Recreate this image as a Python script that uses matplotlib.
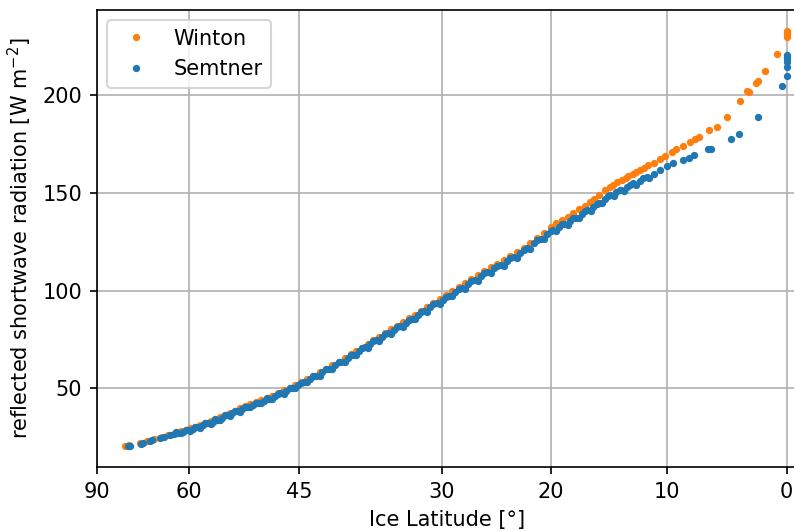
#%% libs
import numpy as np
import matplotlib
matplotlib.use('Agg')
import matplotlib.pyplot as plt

#%% data (ice latitude [deg], reflected SW [W m-2])
winton_lat = [73.5, 72.4, 69.6, 68.0, 66.5, 64.9, 63.7, 62.2, 61.4, 60.6,
              59.8, 59.0, 58.2, 57.4, 56.6, 55.9, 55.2, 54.5, 53.8, 53.1,
              52.4, 51.7, 51.0, 50.3, 49.6, 48.9, 48.2, 47.5, 46.8, 46.1,
              45.4, 44.7, 44.0, 43.3, 42.6, 41.9, 41.2, 40.5, 39.8, 39.2,
              38.6, 38.0, 37.4, 36.8, 36.2, 35.6, 35.0, 34.4, 33.8, 33.2,
              32.6, 32.0, 31.4, 30.8, 30.2, 29.6, 29.0, 28.4, 27.8, 27.2,
              26.6, 26.0, 25.4, 24.8, 24.2, 23.6, 23.0, 22.4, 21.8, 21.2,
              20.6, 20.0, 19.5, 19.0, 18.5, 18.0, 17.5, 17.0, 16.6, 16.25,
              15.8, 15.3, 14.8, 14.55, 14.2, 13.83, 13.5, 13.27, 12.9, 12.62,
              12.27, 11.9, 11.57, 11.06, 10.6, 10.16, 9.6, 9.2, 8.62, 8.08,
              7.66, 7.27, 6.47, 5.82, 4.94, 3.88, 3.27, 3.17, 2.57, 2.36,
              1.80, 0.78, 0.0, 0.0, 0.0, 0.0, 0.0]
winton_sw = [20.3, 20.9, 22.0, 23.0, 24.1, 25.2, 26.3, 27.5, 28.1, 28.8,
             29.6, 30.4, 31.4, 32.4, 33.3, 34.3, 35.2, 36.3, 37.4, 38.5,
             39.7, 40.8, 41.8, 42.9, 44.0, 45.1, 46.2, 47.5, 48.9, 50.3,
             51.7, 53.2, 54.9, 56.5, 58.2, 60.0, 61.8, 63.6, 65.5, 67.3,
             69.0, 70.8, 72.7, 74.5, 76.4, 78.3, 80.1, 82.0, 83.8, 85.8,
             87.7, 89.6, 91.5, 93.6, 95.6, 97.6, 99.7, 101.7, 103.7, 105.8,
             107.8, 109.8, 111.8, 113.8, 115.8, 117.8, 119.8, 121.9, 124.4, 126.9,
             129.4, 132.5, 134.3, 136.0, 137.8, 139.6, 141.5, 143.5, 145.3, 147.0,
             149.0, 151.2, 153.0, 154.0, 155.4, 156.5, 157.5, 158.7, 159.6, 160.5,
             161.6, 162.9, 164.2, 165.4, 167.2, 168.8, 171.0, 172.4, 174.1, 176.1,
             177.5, 178.7, 182.1, 183.8, 188.9, 196.7, 202.2, 201.4, 206.2, 207.0,
             212.3, 221.2, 229.8, 230.8, 231.6, 232.4, 233.0]

semtner_lat = [72.6, 72.1, 69.4, 69.0, 67.4, 66.8, 65.3, 64.5, 63.4, 62.6,
               61.9, 61.0, 60.2, 59.4, 58.6, 57.8, 57.0, 56.3, 55.6, 54.9,
               54.2, 53.5, 52.8, 52.1, 51.4, 50.7, 50.0, 49.3, 48.6, 47.9,
               47.2, 46.5, 45.8, 45.1, 44.4, 43.7, 43.0, 42.3, 41.6, 40.9,
               40.2, 39.5, 38.9, 38.3, 37.7, 37.1, 36.5, 35.9, 35.3, 34.7,
               34.1, 33.5, 32.9, 32.3, 31.7, 31.1, 30.5, 29.9, 29.3, 28.7,
               28.1, 27.5, 26.9, 26.3, 25.7, 25.1, 24.5, 23.9, 23.3, 22.7,
               22.1, 21.5, 20.9, 20.3, 19.8, 19.3, 18.8, 18.3, 17.8, 17.3,
               16.8, 16.3, 15.8, 15.3, 14.8, 14.3, 13.9, 13.4, 12.84, 12.3,
               11.7, 11.1, 10.58, 10.0, 9.46, 8.67, 8.14, 7.72, 6.52, 6.32,
               4.63, 3.96, 2.42, 0.41, 0.0, 0.0, 0.0, 0.0, 0.0, 0.0]
semtner_sw = [20.5, 20.7, 21.7, 21.9, 23.0, 23.4, 24.4, 25.1, 26.0, 26.7,
              27.2, 27.9, 28.5, 29.3, 30.2, 31.2, 32.2, 33.0, 34.0, 35.0,
              36.1, 37.2, 38.3, 39.5, 40.5, 41.5, 42.6, 43.7, 44.7, 46.0,
              47.4, 48.7, 50.1, 51.5, 53.1, 54.8, 56.5, 58.2, 60.0, 61.8,
              63.6, 65.5, 67.2, 69.0, 70.9, 72.7, 74.6, 76.3, 78.1, 80.0,
              81.8, 83.6, 85.5, 87.5, 89.4, 91.4, 93.4, 95.4, 97.4, 99.4,
              101.4, 103.4, 105.4, 107.4, 109.3, 111.3, 113.2, 115.2, 117.2, 119.1,
              121.6, 124.1, 126.5, 129.0, 130.8, 132.4, 134.0, 135.6, 137.3, 139.0,
              141.0, 142.9, 144.8, 146.8, 148.7, 150.3, 151.4, 153.0, 154.8, 156.2,
              157.9, 159.8, 161.6, 163.5, 165.4, 166.8, 167.6, 169.2, 172.2, 172.2,
              177.6, 179.9, 188.6, 204.6, 209.9, 214.5, 217.0, 218.2, 219.4, 220.5]

# lower edge of the Semtner band
semtner_lat_low = [61.4, 59.8, 58.2, 56.6, 55.2, 53.8, 52.4, 51.0, 49.6, 48.2,
                   46.8, 45.4, 44.0, 42.6, 41.2, 39.8, 38.6, 37.4, 36.2, 35.0,
                   33.8, 32.6, 31.4, 30.2, 29.0, 27.8, 26.6, 25.4, 24.2, 23.0,
                   21.8, 20.6, 19.5, 18.5, 17.5, 16.5, 15.5, 14.5, 13.6, 12.6,
                   11.5]
semtner_sw_low = [26.9, 28.1, 29.9, 31.8, 33.7, 35.8, 38.1, 40.2, 42.3, 44.4,
                  47.2, 50.0, 53.1, 56.5, 59.9, 63.6, 67.0, 70.6, 74.2, 77.8,
                  81.4, 85.2, 89.1, 93.1, 97.0, 101.0, 105.0, 108.8, 112.7, 116.7,
                  121.3, 126.2, 130.3, 133.6, 136.9, 140.7, 144.6, 148.5, 151.0, 154.1,
                  157.4]

# upper edge of the Semtner band
semtner_lat_up = [62.2, 60.6, 59.0, 57.4, 55.9, 54.5, 53.1, 51.7, 50.3, 48.9,
                  47.5, 46.1, 44.7, 43.3, 41.9, 40.5, 39.2, 38.0, 36.8, 35.6,
                  34.4, 33.2, 32.0, 30.8, 29.6, 28.4, 27.2, 26.0, 24.8, 23.6,
                  22.4, 21.2, 20.0, 19.0, 18.0, 17.0, 16.0, 15.0, 14.0, 13.1,
                  12.0]
semtner_sw_up = [27.5, 28.7, 30.2, 32.2, 34.1, 36.1, 38.5, 40.6, 42.7, 44.8,
                 47.3, 50.0, 52.9, 56.3, 59.7, 63.3, 66.8, 70.4, 74.1, 77.7,
                 81.4, 85.1, 89.0, 92.9, 96.9, 100.9, 104.9, 108.9, 112.8, 116.7,
                 120.8, 125.8, 130.7, 133.9, 137.1, 140.7, 144.5, 148.4, 151.6, 154.1,
                 157.5]

lat_ticks = [90, 60, 45, 30, 20, 10, 0]

#%% scale: x axis linear in sin(latitude)
def lat2sin(lat):
    return np.sin(np.deg2rad(lat))

def sin2lat(s):
    return np.rad2deg(np.arcsin(np.clip(s, -1, 1)))

#%% plot
dpi = 150
ms = 5
fig = plt.figure(figsize=(794/dpi, 531/dpi), dpi=dpi)
ax = fig.add_axes([96.7/794, (531-467.3)/531, 700/794, (467.3-10)/531])

ax.plot(winton_lat, winton_sw, '.', ms=ms, color='C1', label='Winton')
ax.plot(semtner_lat + semtner_lat_low + semtner_lat_up,
        semtner_sw + semtner_sw_low + semtner_sw_up, '.', ms=ms,
        color='C0', label='Semtner')

ax.set_xscale('function', functions=(lat2sin, sin2lat))
ax.set_xlim(90, -0.83)
ax.set_xticks(lat_ticks)
ax.set_xticklabels([str(t) for t in lat_ticks])
ax.set_ylim(9.6, 243.5)

ax.set_xlabel('Ice Latitude [°]')
ax.set_ylabel('reflected shortwave radiation [W m$^{-2}$]')
ax.grid(True)
ax.legend(loc='upper left')

fig.savefig('out.png', dpi=dpi)
